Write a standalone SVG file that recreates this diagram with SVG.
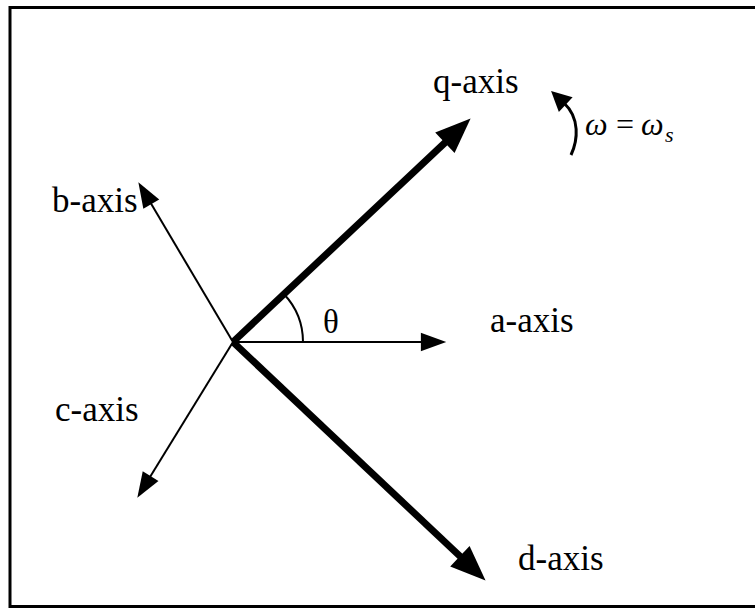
<svg xmlns="http://www.w3.org/2000/svg" width="755" height="608" viewBox="0 0 755 608">
<style>
.lbl{font-family:"Liberation Serif","Times New Roman",serif;font-size:35px;fill:#000}
.thin{stroke:#000;stroke-width:2;fill:none}
.thick{stroke:#000;stroke-width:7;fill:none}
.math{font-family:"Liberation Serif","Times New Roman",serif;font-size:32px;fill:#000}
</style>
<defs>
<marker id="ahThick" markerUnits="userSpaceOnUse" orient="auto" markerWidth="40" markerHeight="40" viewBox="-2 -14 34 28" refX="2" refY="0"><path d="M0,-12 L30,0 L0,12 Z" fill="#000"/></marker>
<marker id="ahThin" markerUnits="userSpaceOnUse" orient="auto" markerWidth="30" markerHeight="30" viewBox="-2 -10 26 20" refX="1" refY="0"><path d="M0,-8 L22,0 L0,8 Z" fill="#000"/></marker>
<marker id="ahSmall" markerUnits="userSpaceOnUse" orient="auto" markerWidth="26" markerHeight="26" viewBox="-2 -10 22 20" refX="2" refY="0"><path d="M0,-8.5 L17,0 L0,8.5 Z" fill="#000"/></marker>
</defs>
<rect x="10" y="7.5" width="760" height="599" fill="#fff" stroke="#000" stroke-width="3"/>
<g id="connectors">
<line class="thin" x1="233" y1="342" x2="422" y2="342" marker-end="url(#ahThin)"/>
<line class="thin" x1="233" y1="342" x2="150.7" y2="203.1" marker-end="url(#ahThin)"/>
<line class="thin" x1="233" y1="342" x2="150" y2="477.1" marker-end="url(#ahThin)"/>
<line class="thick" x1="233" y1="342" x2="446.6" y2="141.1" marker-end="url(#ahThick)"/>
<line class="thick" x1="233" y1="342" x2="461.6" y2="557.8" marker-end="url(#ahThick)"/>
<path class="thin" d="M303,342 A70,70 0 0 0 284.1,294.2"/>
<path d="M571,155 C578,140 580,118 564,103" stroke="#000" stroke-width="3" fill="none" marker-end="url(#ahSmall)"/>
</g>
<g id="q-axis"><text class="lbl" x="433" y="93">q-axis</text></g>
<g id="b-axis"><text class="lbl" x="52" y="212">b-axis</text></g>
<g id="a-axis"><text class="lbl" x="490" y="332">a-axis</text></g>
<g id="c-axis"><text class="lbl" x="55" y="421">c-axis</text></g>
<g id="d-axis"><text class="lbl" x="518" y="570">d-axis</text></g>
<g id="theta"><text class="lbl" x="323" y="333" style="font-size:33px">θ</text></g>
<g id="omega"><text class="math" y="135"><tspan x="585" font-style="italic">ω</tspan><tspan x="616">=</tspan><tspan x="641" font-style="italic">ω</tspan><tspan x="665" y="142" font-style="italic" font-size="22">s</tspan></text></g>
</svg>
